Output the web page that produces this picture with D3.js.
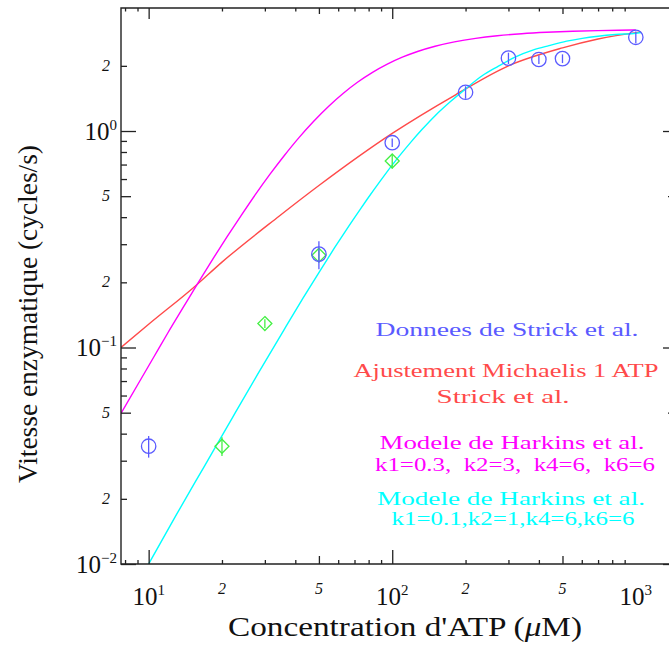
<!DOCTYPE html>
<html><head><meta charset="utf-8">
<script src="https://cdn.jsdelivr.net/npm/d3@7"></script>
<style>body{margin:0;background:#fff}svg{display:block}text{white-space:pre}</style>
</head><body><svg id="c" width="669" height="645"></svg>
<script>
// ---- data ----
const blueConc = [10, 50, 100, 200, 300, 400, 500, 1000];
const blueRate = [0.035, 0.27, 0.883, 1.51, 2.17, 2.14, 2.16, 2.71];
const blueErr  = [0.004, 0.04, 0.04, 0.10, 0.13, 0.10, 0.10, 0.17];
const greenConc = [20, 30, 50, 100];
const greenRate = [0.035, 0.129, 0.267, 0.727];
const greenErr  = [0.0035, 0.006, 0.02, 0.055];
const michaelisConc = [7.7, 10, 15.6, 20, 34.4, 50, 100, 182, 300, 500, 700, 1050];
const michaelisRate = [0.100, 0.128, 0.193, 0.248, 0.405, 0.56, 0.975, 1.47, 2.0, 2.42, 2.66, 2.87];
const harkinsAConc = [7.7, 9, 10.5, 12, 14, 16, 18.5, 21, 24, 27.5, 31.5, 36, 41.5, 47.5, 55, 63, 72, 83, 95, 110, 127, 150, 180, 220, 270, 340, 430, 550, 700, 850, 1000];
const harkinsARate = [0.0496, 0.0671, 0.0904, 0.117, 0.156, 0.200, 0.260, 0.325, 0.408, 0.511, 0.632, 0.769, 0.935, 1.107, 1.306, 1.495, 1.679, 1.866, 2.031, 2.192, 2.330, 2.464, 2.581, 2.680, 2.755, 2.815, 2.858, 2.889, 2.909, 2.921, 2.928];
const harkinsBConc = [10, 13, 17, 22, 28, 36, 42.9, 50, 58, 64.6, 74, 78.5, 90, 105, 120, 133, 150, 173, 200, 234, 270, 321, 380, 440, 520, 603, 700, 826, 1000, 1050];
const harkinsBRate = [0.0100, 0.0169, 0.0285, 0.0471, 0.0751, 0.121, 0.168, 0.222, 0.289, 0.348, 0.436, 0.480, 0.595, 0.747, 0.896, 1.021, 1.177, 1.364, 1.566, 1.80, 1.98, 2.20, 2.37, 2.48, 2.60, 2.68, 2.74, 2.79, 2.83, 2.85];
const xMajorTicks = [10, 100];
const xMajorLabels = [[10, "1"], [100, "2"], [1000, "3"]];
const xFiveTicks = [50, 500];
const xMinorTicks = [8, 9, 20, 30, 40, 60, 70, 80, 90, 200, 300, 400, 600, 700, 800, 900];
const xMinorLabels = [[20, "2"], [50, "5"], [200, "2"], [500, "5"]];
const yMajorTicks = [0.01, 0.1, 1];
const yMajorLabels = [[0.01, "\u22122"], [0.1, "\u22121"], [1, "0"]];
const yFiveTicks = [0.05, 0.5];
const yMinorTicks = [0.02, 0.03, 0.04, 0.06, 0.07, 0.08, 0.09, 0.2, 0.3, 0.4, 0.6, 0.7, 0.8, 0.9, 2];
const yMinorLabels = [[0.02, "2"], [0.05, "5"], [0.2, "2"], [0.5, "5"], [2, "2"]];
const legendLines = [
  ["Donnees de Strick et al.", "blue"],
  ["Ajustement Michaelis 1 ATP", "red"],
  ["Strick et al.", "red"],
  ["Modele de Harkins et al.", "magenta"],
  ["k1=0.3,  k2=3,  k4=6,  k6=6", "magenta"],
  ["Modele de Harkins et al.", "cyan"],
  ["k1=0.1,k2=1,k4=6,k6=6", "cyan"]
];

// ---- layout / styles ----
const legendPos = [[507, 336, 263], [506, 377, 305], [503, 403, 133], [512, 449, 265], [515, 471, 280], [511, 505, 268], [513, 525, 243]];
const col = {blue:"#5a5aff", red:"#ff4a4a", magenta:"#ff00ff", cyan:"#00ffff", green:"#44f044"};
const FONT = "'Liberation Serif', 'Times New Roman', serif";
const L = 121, R = 678, T = 8, B = 564;

const svg = d3.select("#c");
const x = d3.scaleLog().domain([7.7, 1490]).range([L, R]);
const y = d3.scaleLog().domain([0.01, 3.7]).range([B, T]);

svg.append("defs").append("clipPath").attr("id","clip").append("rect")
  .attr("x", L).attr("y", T).attr("width", R-L).attr("height", B-T);

// curves
const line = d3.line().x(d=>x(d[0])).y(d=>y(d[1])).curve(d3.curveMonotoneX);
const gC = svg.append("g").attr("clip-path","url(#clip)");
function curve(cx, cy, c){
  gC.append("path").datum(cx.map((v,i)=>[v, cy[i]]))
    .attr("d", line).attr("fill","none").attr("stroke", c).attr("stroke-width",1.4);
}
curve(michaelisConc, michaelisRate, col.red);
curve(harkinsAConc, harkinsARate, col.magenta);
curve(harkinsBConc, harkinsBRate, col.cyan);

// green diamonds
const gG = svg.append("g").attr("stroke", col.green).attr("fill","none").attr("stroke-width",1.3);
greenConc.forEach((c,i)=>{
  const px = x(c), py = y(greenRate[i]);
  gG.append("line").attr("x1",px).attr("x2",px)
    .attr("y1", y(greenRate[i]+greenErr[i])).attr("y2", y(greenRate[i]-greenErr[i]));
  const s = 7;
  gG.append("path").attr("d", `M${px},${py-s}L${px+s},${py}L${px},${py+s}L${px-s},${py}Z`);
});
// blue circles
const gB = svg.append("g").attr("stroke", col.blue).attr("fill","none").attr("stroke-width",1.3);
blueConc.forEach((c,i)=>{
  const px = x(c), py = y(blueRate[i]);
  gB.append("line").attr("x1",px).attr("x2",px)
    .attr("y1", y(blueRate[i]+blueErr[i])).attr("y2", y(blueRate[i]-blueErr[i]));
  gB.append("circle").attr("cx",px).attr("cy",py).attr("r",7.2);
});

// axes frame
const axCol = "#222";
svg.append("path").attr("d", `M${R},${T}H${L}V${B}H${R}`).attr("fill","none")
  .attr("stroke", axCol).attr("stroke-width",1.4);

function ticks(axisFn, scale, vals, len, tr){
  const g = svg.append("g").attr("transform", tr)
    .call(axisFn(scale).tickValues(vals).tickSize(-len).tickFormat(""));
  g.select(".domain").remove();
  g.selectAll("line").attr("stroke", axCol).attr("stroke-width",1.3);
}
ticks(d3.axisBottom, x, xMajorTicks, 14, `translate(0,${B})`);
ticks(d3.axisBottom, x, xFiveTicks, 8, `translate(0,${B})`);
ticks(d3.axisBottom, x, xMinorTicks, 4, `translate(0,${B})`);
ticks(d3.axisTop, x, xMajorTicks, 11, `translate(0,${T})`);
ticks(d3.axisTop, x, xFiveTicks, 6, `translate(0,${T})`);
ticks(d3.axisTop, x, xMinorTicks, 3.5, `translate(0,${T})`);
ticks(d3.axisLeft, y, yMajorTicks, 15, `translate(${L},0)`);
ticks(d3.axisLeft, y, yFiveTicks, 10, `translate(${L},0)`);
ticks(d3.axisLeft, y, yMinorTicks, 6, `translate(${L},0)`);
ticks(d3.axisRight, y, yMajorTicks, 15, `translate(${R},0)`);
ticks(d3.axisRight, y, yFiveTicks, 10, `translate(${R},0)`);
ticks(d3.axisRight, y, yMinorTicks, 6, `translate(${R},0)`);

// tick labels
const gL = svg.append("g").attr("font-family", FONT).attr("fill","#111");
xMajorLabels.forEach(([v,e])=>{
  const t = gL.append("text").attr("x", x(v)).attr("y", 605).attr("text-anchor","middle").attr("font-size",25);
  t.append("tspan").text("10");
  t.append("tspan").attr("dy",-10).attr("font-size",15).text(e);
});
xMinorLabels.forEach(([v,s])=>{
  gL.append("text").attr("x", x(v)).attr("y", 594).attr("text-anchor","middle")
    .attr("font-size",16).attr("font-style","italic").text(s);
});
yMajorLabels.forEach(([v,e])=>{
  const t = gL.append("text").attr("x", 117).attr("y", y(v)+8.5).attr("text-anchor","end").attr("font-size",25);
  t.append("tspan").text("10");
  t.append("tspan").attr("dy",-10).attr("font-size",15).text(e);
});
yMinorLabels.forEach(([v,s])=>{
  gL.append("text").attr("x", 110).attr("y", y(v)+5).attr("text-anchor","end")
    .attr("font-size",16).attr("font-style","italic").text(s);
});

// axis titles
const xt = gL.append("text").attr("x", 405).attr("y", 636).attr("text-anchor","middle")
  .attr("font-size",27).attr("textLength",354).attr("lengthAdjust","spacingAndGlyphs");
xt.append("tspan").text("Concentration d'ATP (");
xt.append("tspan").attr("font-style","italic").text("\u03bc");
xt.append("tspan").text("M)");
gL.append("text").attr("transform","translate(37,314) rotate(-90)").attr("text-anchor","middle")
  .attr("font-size",27).attr("textLength",338).attr("lengthAdjust","spacingAndGlyphs")
  .text("Vitesse enzymatique (cycles/s)");

// legend text
legendLines.forEach(([s,c],i)=>{
  const [lx, ly, lw] = legendPos[i];
  svg.append("text").attr("x", lx).attr("y", ly).attr("text-anchor","middle")
    .attr("font-family", FONT).attr("font-size",19).attr("fill", col[c])
    .attr("textLength", lw).attr("lengthAdjust","spacingAndGlyphs").text(s);
});
</script></body></html>
